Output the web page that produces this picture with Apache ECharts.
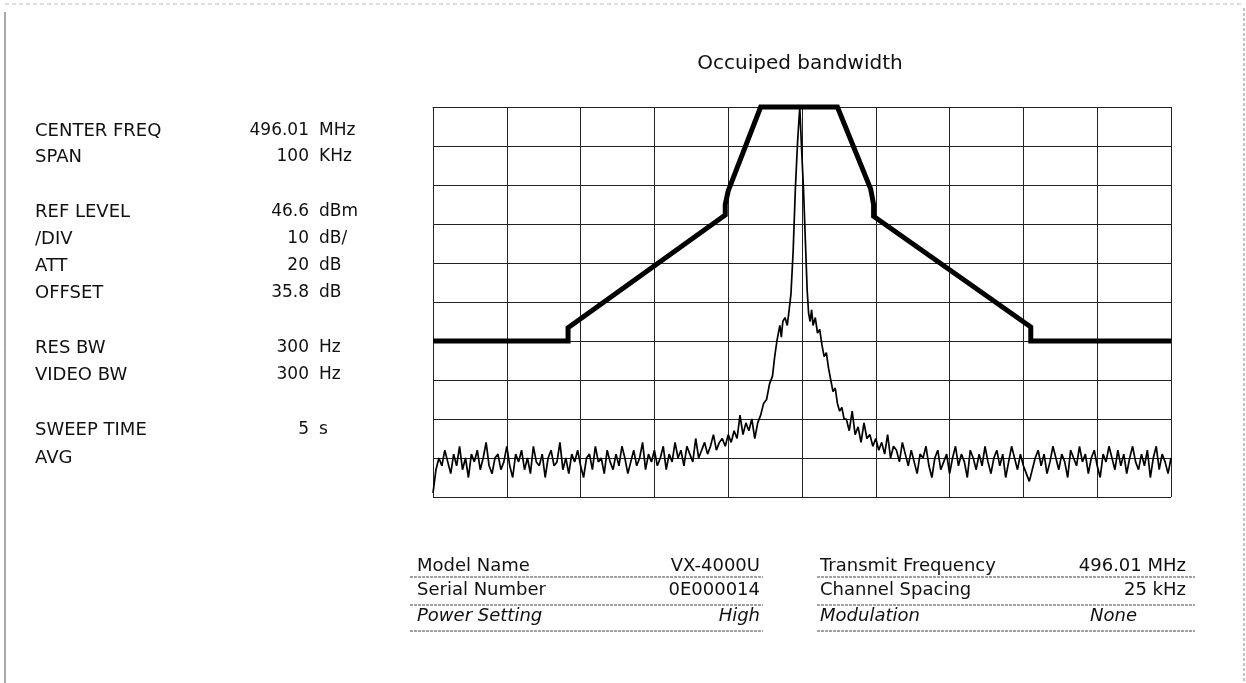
<!DOCTYPE html>
<html>
<head>
<meta charset="utf-8">
<script src="https://cdn.jsdelivr.net/npm/echarts@6/dist/echarts.min.js"></script>
<style>
html,body{margin:0;padding:0;background:#fff;}
#chart{width:1246px;height:683px;}
</style>
</head>
<body>
<div id="chart"></div>
<script>
// ---------------- data ----------------
const chartTitle = 'Occuiped bandwidth';

// frequency offset axis (kHz) and level axis (dB relative to REF LEVEL)
const freqMin = -50, freqMax = 50, freqStep = 10;
const levelMin = -100, levelMax = 0, levelStep = 10;

// spectrum emission mask (thick line)
const maskFreq  = [-50, -31.7, -31.7, -10.4, -10.4, -10.0, -5.6, 4.8, 9.3, 9.7, 9.7, 31.0, 31.0, 50];
const maskLevel = [-60, -60,   -56.6, -27.7, -25,   -21.5, 0,    0,   -21, -25, -28, -56.4, -60, -60];

// measured trace: left noise (sweep from -50 kHz, 0.4 kHz per point)
const noiseLeftStart = -50, noiseStepKHz = 0.4;
const noiseLeft = [
  -99,-93,-90,-92,-88,-91,-94,-89,-92,-87,
  -93,-90,-95,-89,-91,-88,-93,-90,-86,-92,
  -94,-90,-89,-93,-91,-87,-92,-95,-89,-91,
  -88,-93,-90,-94,-87,-91,-92,-89,-95,-90,
  -88,-92,-91,-86,-93,-90,-94,-89,-91,-88,
  -92,-95,-90,-89,-93,-87,-91,-90,-94,-88,
  -91,-93,-89,-92,-87,-90,-94,-91,-88,-92,
  -90,-86,-93,-89,-91,-88,-92,-90,-87,-93,
  -89,-91,-86,-90,-88,-92,-87,-89,-91,-85,
  -90,-88,-86,-89,-87,-84,-88,-86,-85,-87,
  -84,-86,-83,-85,-79,-84,-81,-83,-80,-85,
  -81
];
// carrier region
const coreFreq  = [-5.6,-5.2,-4.8,-4.4,-4.0,-3.7,-3.4,-3.2,-3.0,-2.8,-2.6,-2.3,-2.0,-1.8,-1.5,-1.2,-0.9,-0.6,-0.3,-0.05,0.2,0.45,0.7,0.9,1.1,1.3,1.5,1.8,2.1,2.4,2.7,3.0,3.3,3.6,3.9,4.2,4.5,4.8,5.1,5.4,5.7];
const coreLevel = [-79,-76,-75,-71,-69,-64,-60,-58,-56,-59,-55,-54,-56,-53,-48,-37,-21,-9,0,-11,-21,-34,-47,-53,-55,-52,-56,-54,-58,-57,-61,-64,-63,-67,-70,-73,-72,-76,-78,-77,-80];
// right noise (sweep from +6 kHz, 0.4 kHz per point)
const noiseRightStart = 6.0;
const noiseRight = [
  -80,-83,-78,-84,-82,-86,-81,-85,-84,-87,
  -85,-88,-86,-89,-84,-90,-87,-88,-91,-86,
  -89,-92,-88,-91,-94,-89,-90,-87,-92,-95,
  -90,-88,-93,-91,-89,-94,-90,-87,-92,-89,
  -91,-95,-88,-90,-93,-89,-92,-87,-91,-94,
  -90,-88,-92,-89,-95,-91,-87,-90,-93,-89,
  -92,-94,-96,-93,-90,-88,-92,-89,-94,-91,
  -87,-90,-93,-89,-91,-95,-88,-90,-92,-87,
  -91,-89,-94,-90,-88,-92,-95,-89,-91,-87,
  -90,-93,-88,-92,-89,-94,-90,-87,-91,-93,
  -89,-92,-88,-95,-90,-87,-93,-89,-91,-94,
  -90
];

// instrument settings panel
const infoLabels = ['CENTER FREQ','SPAN','REF LEVEL','/DIV','ATT','OFFSET','RES BW','VIDEO BW','SWEEP TIME','AVG'];
const infoValues = ['496.01','100','46.6','10','20','35.8','300','300','5',''];
const infoUnits  = ['MHz','KHz','dBm','dB/','dB','dB','Hz','Hz','s',''];

// information table
const tableLeftLabels  = ['Model Name','Serial Number','Power Setting'];
const tableLeftValues  = ['VX-4000U','0E000014','High'];
const tableRightLabels = ['Transmit Frequency','Channel Spacing','Modulation'];
const tableRightValues = ['496.01 MHz','25 kHz','None'];

// ---------------- layout (not data) ----------------
const infoRowY = [131,157,212,239,266,293,348,375,430,458];
const tableRowY = [566,590,616];
const tableLineY = [577,605,631];
const italicRows = [false,false,true];

const chart = echarts.init(document.getElementById('chart'), null, {renderer:'canvas'});

const maskData = maskFreq.map((f,i)=>[f, maskLevel[i]]);
const traceData = [];
noiseLeft.forEach((v,i)=>traceData.push([noiseLeftStart + i*noiseStepKHz, v]));
coreFreq.forEach((f,i)=>traceData.push([f, coreLevel[i]]));
noiseRight.forEach((v,i)=>traceData.push([noiseRightStart + i*noiseStepKHz, v]));

const FONT = '"DejaVu Sans", "Liberation Sans", sans-serif';
const ink = '#111';

function txt(x, y, t, font, align){
  return {type:'text', x:x, y:y, style:{text:t, fill:ink, font:font, align:align, verticalAlign:'middle', textAlign:align, textVerticalAlign:'middle'}};
}

const graphics = [];
// title
graphics.push(txt(800, 64, chartTitle, '20px '+FONT, 'center'));
// info panel
infoLabels.forEach((t,i)=>{
  graphics.push(txt(35, infoRowY[i], t, '18px '+FONT, 'left'));
  if (infoValues[i]) graphics.push(txt(309, infoRowY[i], infoValues[i], '17px '+FONT, 'right'));
  if (infoUnits[i]) graphics.push(txt(319, infoRowY[i], infoUnits[i], '17px '+FONT, 'left'));
});
// table
function addTable(labels, values, xL, xLine1, xLine2, valueRightX){
  labels.forEach((t,i)=>{
    const st = italicRows[i] ? 'italic ' : '';
    graphics.push(txt(xL, tableRowY[i], t, st+'18px '+FONT, 'left'));
    graphics.push(txt(valueRightX[i], tableRowY[i], values[i], st+'18px '+FONT, 'right'));
    graphics.push({type:'line', shape:{x1:xLine1, y1:tableLineY[i], x2:xLine2, y2:tableLineY[i]}, style:{stroke:'#444', lineWidth:1, lineDash:[3,1]}});
  });
}
addTable(tableLeftLabels, tableLeftValues, 417, 410, 763, [760,760,760]);
addTable(tableRightLabels, tableRightValues, 820, 817, 1195, [1186,1186,1137]);
// scan frame edges
graphics.push({type:'line', shape:{x1:5, y1:12, x2:5, y2:683}, style:{stroke:'#555', lineWidth:1}});
graphics.push({type:'line', shape:{x1:5, y1:4, x2:1244, y2:4}, style:{stroke:'#bbb', lineWidth:1, lineDash:[4,3]}});
graphics.push({type:'line', shape:{x1:1244, y1:8, x2:1244, y2:683}, style:{stroke:'#888', lineWidth:1, lineDash:[3,2]}});

const option = {
  animation:false,
  backgroundColor:'#fff',
  grid:{left:433, right:75, top:107, bottom:186, show:false},
  xAxis:{
    type:'value', min:freqMin, max:freqMax, interval:freqStep,
    axisLine:{show:true, lineStyle:{color:'#222', width:1}},
    axisTick:{show:false}, axisLabel:{show:false},
    splitLine:{show:true, lineStyle:{color:'#222', width:1}}
  },
  yAxis:{
    type:'value', min:levelMin, max:levelMax, interval:levelStep,
    axisLine:{show:true, lineStyle:{color:'#222', width:1}},
    axisTick:{show:false}, axisLabel:{show:false},
    splitLine:{show:true, lineStyle:{color:'#222', width:1}}
  },
  series:[
    {type:'line', data:traceData, showSymbol:false, symbol:'none', clip:false,
     lineStyle:{color:'#000', width:1.7}, z:3},
    {type:'line', data:maskData, showSymbol:false, symbol:'none', clip:false,
     lineStyle:{color:'#000', width:5, join:'miter'}, z:4}
  ],
  graphic:graphics
};
chart.setOption(option);
</script>
</body>
</html>
